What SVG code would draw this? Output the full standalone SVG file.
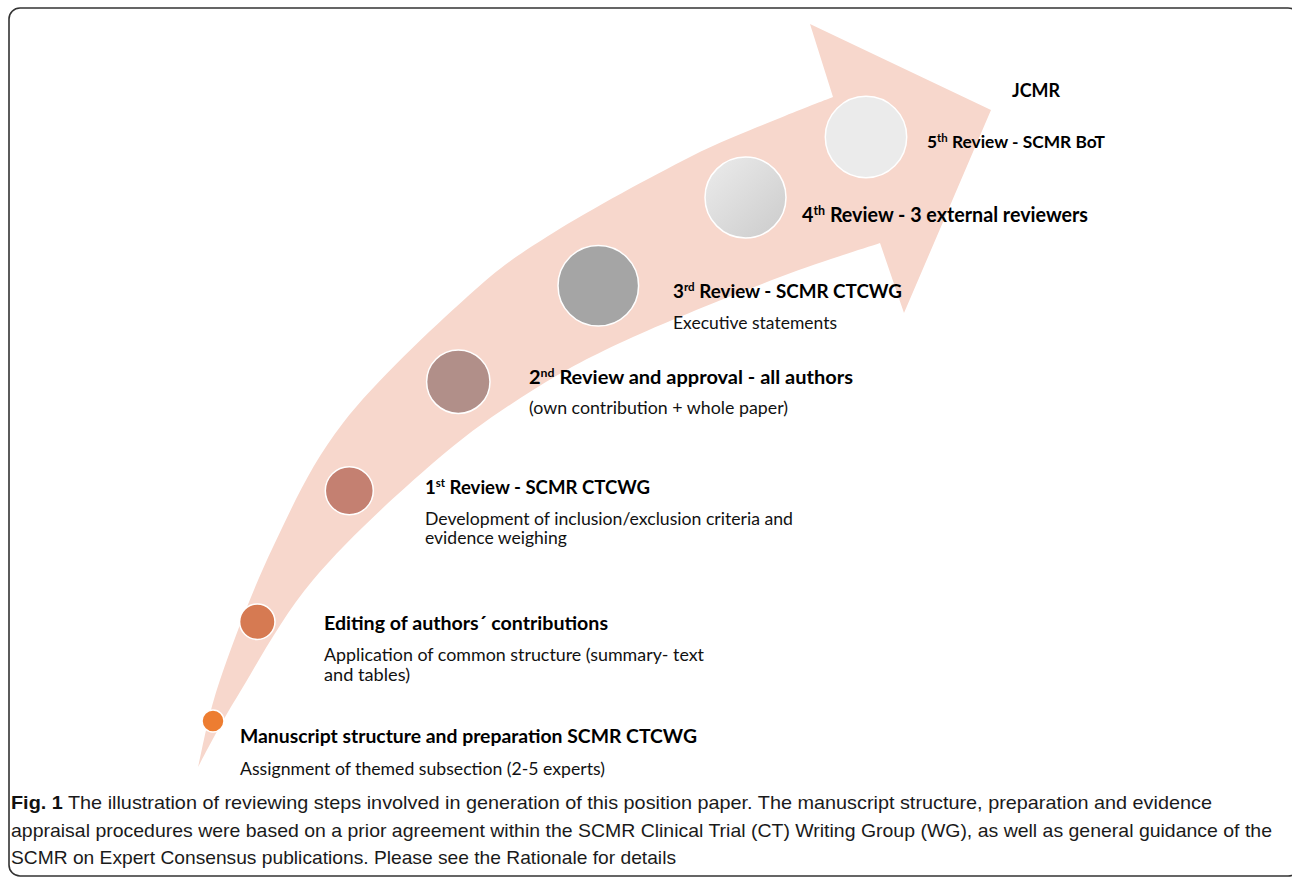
<svg xmlns="http://www.w3.org/2000/svg" width="1292" height="877" viewBox="0 0 1292 877">
<defs>
<style>
.h{font-family:Lato,"Liberation Sans",sans-serif;font-weight:bold;fill:#000}
.b{font-family:Lato,"Liberation Sans",sans-serif;font-weight:normal;fill:#111}
.cap{font-family:"Liberation Sans",Arial,sans-serif;font-size:19px;fill:#1a1a1a}
.node circle{stroke:#fff;stroke-width:1.5}
</style>
<linearGradient id="g4" x1="0" y1="0" x2="1" y2="1">
<stop offset="0" stop-color="#ECECEC"/>
<stop offset="1" stop-color="#CBCBCB"/>
</linearGradient>
</defs>
<rect x="9" y="8" width="1290" height="868" rx="11" ry="11" fill="#fff" stroke="#333" stroke-width="1.6"/>
<g id="connectors">
<path id="arrow" fill="#F7D7CC" d="M198,767 C201.7,752.5 207.5,716.7 220,680 C232.5,643.3 252.5,589.8 273,547 C293.5,504.2 310.7,464.7 343,423 C375.3,381.3 432,328.7 467,297 C502,265.3 515.8,256.3 553,233 C590.2,209.7 652.2,176.2 690,157 C727.8,137.8 756.2,128 780,118 C803.8,108 824.2,100.5 833,97 L810,24 L991,110 L904,313 L880,243 C863.3,248.7 821.2,261.3 780,277 C738.8,292.7 674.2,318.2 633,337 C591.8,355.8 566.3,369 533,390 C499.7,411 469.7,431.3 433,463 C396.3,494.7 345.7,541 313,580 C280.3,619 256.2,665.8 237,697 C217.8,728.2 204.5,755.3 198,767 Z"/>
</g>
<g id="node-jcmr" class="node">
<text class="h" x="1012" y="97" font-size="19.5" textLength="48" lengthAdjust="spacingAndGlyphs">JCMR</text>
</g>
<g id="node-5" class="node">
<circle cx="866" cy="137" r="40.7" fill="#EBEBEB"/>
<text class="h" x="927" y="148" font-size="17.5" textLength="178" lengthAdjust="spacingAndGlyphs">5<tspan font-size="11.5" dy="-6">th</tspan><tspan dy="6"> Review - SCMR BoT</tspan></text>
</g>
<g id="node-4" class="node">
<circle cx="745.5" cy="197.5" r="40.5" fill="url(#g4)"/>
<text class="h" x="802" y="222" font-size="20.5" textLength="286" lengthAdjust="spacingAndGlyphs">4<tspan font-size="13" dy="-7">th</tspan><tspan dy="7"> Review - 3 external reviewers</tspan></text>
</g>
<g id="node-3" class="node">
<circle cx="598.3" cy="285.7" r="40.3" fill="#A5A5A5"/>
<text class="h" x="673" y="298" font-size="19.5" textLength="229" lengthAdjust="spacingAndGlyphs">3<tspan font-size="12" dy="-7">rd</tspan><tspan dy="7"> Review - SCMR CTCWG</tspan></text>
<text class="b" x="673" y="329" font-size="17" textLength="164" lengthAdjust="spacingAndGlyphs">Executive statements</text>
</g>
<g id="node-2" class="node">
<circle cx="458.3" cy="381.7" r="31.7" fill="#B18F89"/>
<text class="h" x="529" y="384" font-size="19.5" textLength="324" lengthAdjust="spacingAndGlyphs">2<tspan font-size="12" dy="-7">nd</tspan><tspan dy="7"> Review and approval - all authors</tspan></text>
<text class="b" x="529" y="414" font-size="17" textLength="259" lengthAdjust="spacingAndGlyphs">(own contribution + whole paper)</text>
</g>
<g id="node-1" class="node">
<circle cx="349.3" cy="490.7" r="24" fill="#C48071"/>
<text class="h" x="425" y="494" font-size="19.5" textLength="225" lengthAdjust="spacingAndGlyphs">1<tspan font-size="12" dy="-7">st</tspan><tspan dy="7"> Review - SCMR CTCWG</tspan></text>
<text class="b" x="425" y="525" font-size="17" textLength="368" lengthAdjust="spacingAndGlyphs">Development of inclusion/exclusion criteria and</text>
<text class="b" x="425" y="544" font-size="17" textLength="142" lengthAdjust="spacingAndGlyphs">evidence weighing</text>
</g>
<g id="node-editing" class="node">
<circle cx="257.3" cy="621.7" r="17.7" fill="#D67A52"/>
<text class="h" x="324" y="630" font-size="19.5" textLength="284" lengthAdjust="spacingAndGlyphs">Editing of authors´ contributions</text>
<text class="b" x="324" y="661" font-size="17" textLength="380" lengthAdjust="spacingAndGlyphs">Application of common structure (summary- text</text>
<text class="b" x="324" y="681" font-size="17" textLength="86" lengthAdjust="spacingAndGlyphs">and tables)</text>
</g>
<g id="node-manuscript" class="node">
<circle cx="213" cy="721" r="11" fill="#ED7D31"/>
<text class="h" x="240" y="743" font-size="19.5" textLength="457" lengthAdjust="spacingAndGlyphs">Manuscript structure and preparation SCMR CTCWG</text>
<text class="b" x="240" y="775" font-size="17" textLength="365" lengthAdjust="spacingAndGlyphs">Assignment of themed subsection (2-5 experts)</text>
</g>
<g id="caption">
<text class="cap" x="11" y="809" textLength="1201" lengthAdjust="spacingAndGlyphs"><tspan font-weight="bold" fill="#111">Fig. 1</tspan> The illustration of reviewing steps involved in generation of this position paper. The manuscript structure, preparation and evidence</text>
<text class="cap" x="11" y="837" textLength="1261" lengthAdjust="spacingAndGlyphs">appraisal procedures were based on a prior agreement within the SCMR Clinical Trial (CT) Writing Group (WG), as well as general guidance of the</text>
<text class="cap" x="11" y="864" textLength="665" lengthAdjust="spacingAndGlyphs">SCMR on Expert Consensus publications. Please see the Rationale for details</text>
</g>
</svg>
